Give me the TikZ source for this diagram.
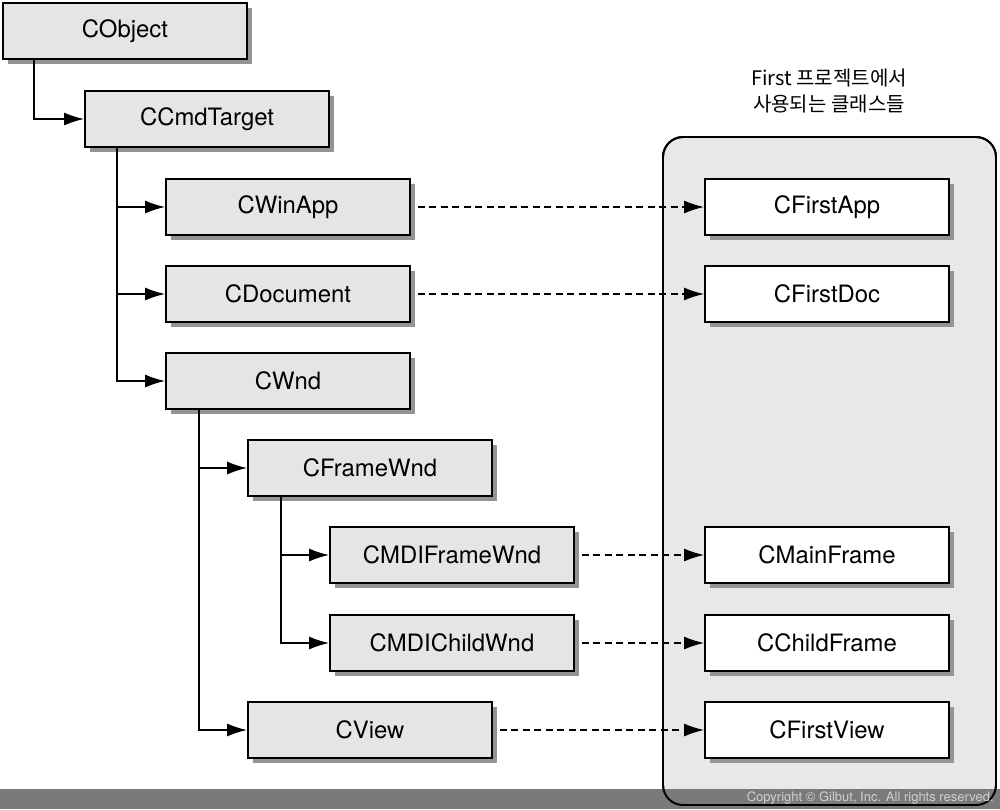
\documentclass[tikz,border=0pt]{standalone}
\usepackage{fontspec}
\setmainfont{TeX Gyre Heros}
\newfontfamily\krfont{Noto Sans CJK KR}
\usetikzlibrary{arrows.meta,shadows}

\begin{document}
\begin{tikzpicture}[x=0.02cm,y=-0.02cm,
		cls/.style={draw,line width=1.1pt,minimum width=4.88cm,minimum height=1.12cm,inner sep=0pt,
			font=\fontsize{13.6}{16}\selectfont,
			drop shadow={shadow xshift=0.1cm,shadow yshift=-0.1cm,fill=black!42,opacity=1}},
		mfc/.style={cls,fill=black!10},
		mine/.style={cls,fill=white},
		tree/.style={line width=0.85pt,-{Latex[length=0.4cm,width=0.26cm]}},
		maps/.style={tree,dash pattern=on 0.14cm off 0.09cm}]
			\useasboundingbox (0,0) rectangle (1000,809);
			% panel of the project's own classes
			\draw[line width=1.1pt,fill=black!9,rounded corners=0.4cm] (663,137) rectangle (996,805);
			\fill[black!52] (0,789) rectangle (1000,809);
			\draw[line width=1.1pt,rounded corners=0.4cm] (663,137) rectangle (996,805);
			\node[text=black!18,font=\fontsize{7.4}{9}\selectfont,anchor=east,inner sep=0pt] (copy) at (994,798) {Copyright © Gilbut, Inc. All rights reserved.};
			\node[font=\krfont\fontsize{11.4}{15.3}\selectfont,align=center] (title) at (829,91) {First 프로젝트에서\\사용되는 클래스들};
			% MFC classes
			\node[mfc] (CObject) at (125,31) {CObject};
			\node[mfc] (CCmdTarget) at (207,119) {CCmdTarget};
			\node[mfc] (CWinApp) at (288,207) {CWinApp};
			\node[mfc] (CDocument) at (288,294) {CDocument};
			\node[mfc] (CWnd) at (288,381) {CWnd};
			\node[mfc] (CFrameWnd) at (370,468) {CFrameWnd};
			\node[mfc] (CMDIFrameWnd) at (452,555) {CMDIFrameWnd};
			\node[mfc] (CMDIChildWnd) at (452,643) {CMDIChildWnd};
			\node[mfc] (CView) at (370,730) {CView};
			% derived classes
			\node[mine] (CFirstApp) at (827,207) {CFirstApp};
			\node[mine] (CFirstDoc) at (827,294) {CFirstDoc};
			\node[mine] (CMainFrame) at (827,555) {CMainFrame};
			\node[mine] (CChildFrame) at (827,643) {CChildFrame};
			\node[mine] (CFirstView) at (827,730) {CFirstView};
			% hierarchy
			\draw[tree] ([xshift=0.64cm]CObject.south west) |- (CCmdTarget);
			\draw[tree] ([xshift=0.66cm]CCmdTarget.south west) |- (CWinApp);
			\draw[tree] ([xshift=0.66cm]CCmdTarget.south west) |- (CDocument);
			\draw[tree] ([xshift=0.66cm]CCmdTarget.south west) |- (CWnd);
			\draw[tree] ([xshift=0.68cm]CWnd.south west) |- (CFrameWnd);
			\draw[tree] ([xshift=0.68cm]CWnd.south west) |- (CView);
			\draw[tree] ([xshift=0.68cm]CFrameWnd.south west) |- (CMDIFrameWnd);
			\draw[tree] ([xshift=0.68cm]CFrameWnd.south west) |- (CMDIChildWnd);
			\draw[maps] ([xshift=0.14cm]CWinApp.east) -- (CFirstApp);
			\draw[maps] ([xshift=0.14cm]CDocument.east) -- (CFirstDoc);
			\draw[maps] ([xshift=0.14cm]CMDIFrameWnd.east) -- (CMainFrame);
			\draw[maps] ([xshift=0.14cm]CMDIChildWnd.east) -- (CChildFrame);
			\draw[maps] ([xshift=0.14cm]CView.east) -- (CFirstView);
		\end{tikzpicture}
\end{document}
